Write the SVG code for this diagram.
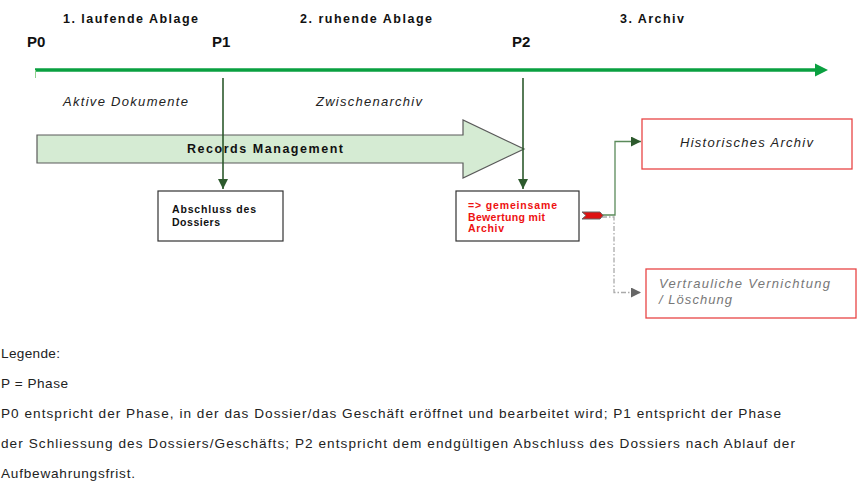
<svg xmlns="http://www.w3.org/2000/svg" width="860" height="487" viewBox="0 0 860 487">
<style>
text{font-family:"Liberation Sans",Arial,sans-serif}
.ph{font-size:12.5px;font-weight:bold;fill:#111}
.pp{font-size:15px;font-weight:bold;fill:#111}
.it{font-size:13px;font-style:italic;fill:#222}
.box{fill:#fff;stroke:#333;stroke-width:1.2}
.rbox{fill:#fff;stroke:#e84545;stroke-width:1.3}
.bt{font-size:10.5px;font-weight:bold;fill:#111}
.rt{font-size:10.5px;font-weight:bold;fill:#ee1111}
.lg{font-size:13.6px;fill:#222}
.pl{fill:none;stroke:#2d5a2d;stroke-width:1.6}
</style>
<defs>
<marker id="ad" markerUnits="userSpaceOnUse" markerWidth="12" markerHeight="12" refX="10" refY="5" orient="auto">
<polygon points="0,0 10,5 0,10" fill="#2d5a2d"/>
</marker>
<marker id="ag" markerUnits="userSpaceOnUse" markerWidth="12" markerHeight="12" refX="10" refY="5" orient="auto">
<polygon points="0,0 10,5 0,10" fill="#666"/>
</marker>
</defs>
<rect width="860" height="487" fill="#fff"/>

<g id="phases">
<text class="ph" x="63" y="23" textLength="135" lengthAdjust="spacing">1. laufende Ablage</text>
<text class="ph" x="300" y="23" textLength="132" lengthAdjust="spacing">2. ruhende Ablage</text>
<text class="ph" x="620" y="23" textLength="64" lengthAdjust="spacing">3. Archiv</text>
<text class="pp" x="27" y="47">P0</text>
<text class="pp" x="212" y="47">P1</text>
<text class="pp" x="512" y="47">P2</text>
</g>

<g id="timeline">
<line x1="35" y1="70" x2="816" y2="70" stroke="#0aa040" stroke-width="3.5"/>
<polygon points="815,63.5 828,70 815,76.5" fill="#0aa040"/>
<line x1="35.5" y1="70" x2="35.5" y2="78" stroke="#8fd08f" stroke-width="1"/>
</g>

<g id="labels">
<text class="it" x="63" y="106" textLength="125" lengthAdjust="spacing">Aktive Dokumente</text>
<text class="it" x="316" y="106" textLength="106" lengthAdjust="spacing">Zwischenarchiv</text>
</g>

<g id="records-management">
<polygon points="37,135 463,135 463,120 524,149 463,178 463,163 37,163" fill="#d5ebd3" stroke="#5a5a5a" stroke-width="1.2"/>
<text x="187" y="153" style="font-size:12.5px;font-weight:bold;fill:#111" textLength="156" lengthAdjust="spacing">Records Management</text>
</g>

<g id="connectors">
<line class="pl" x1="223" y1="78" x2="223" y2="189" marker-end="url(#ad)"/>
<line class="pl" x1="523" y1="78" x2="523" y2="189" marker-end="url(#ad)"/>
<path d="M602 215 H615 V141.5 H641" fill="none" stroke="#5a8a5a" stroke-width="1.3" marker-end="url(#ad)"/>
<path d="M602 217 H614 V292.5 H641" fill="none" stroke="#aaa" stroke-width="1.3" stroke-dasharray="5 2 1.5 2" marker-end="url(#ag)"/>
<polygon points="582,212 600,212 603,215.5 600,219 582,219 586,215.5" fill="#dd1111" stroke="#666" stroke-width="1"/>
</g>

<g id="abschluss">
<rect class="box" x="158" y="191" width="125" height="50"/>
<text class="bt" x="172" y="213" textLength="84" lengthAdjust="spacing">Abschluss des</text>
<text class="bt" x="172" y="226" textLength="48" lengthAdjust="spacing">Dossiers</text>
</g>

<g id="bewertung">
<rect class="box" x="456" y="191" width="123" height="50"/>
<text class="rt" x="468" y="209" textLength="89" lengthAdjust="spacing">=&gt; gemeinsame</text>
<text class="rt" x="468" y="221" textLength="77" lengthAdjust="spacing">Bewertung mit</text>
<text class="rt" x="468" y="232" textLength="36" lengthAdjust="spacing">Archiv</text>
</g>

<g id="historisches-archiv">
<rect class="rbox" x="642" y="119" width="210" height="50"/>
<text class="it" x="680" y="147" textLength="133" lengthAdjust="spacing">Historisches Archiv</text>
</g>

<g id="vernichtung">
<rect class="rbox" x="646" y="269" width="210" height="49"/>
<text x="659" y="288" style="font-size:13px;font-style:italic;fill:#777" textLength="171" lengthAdjust="spacing">Vertrauliche Vernichtung</text>
<text x="659" y="304" style="font-size:13px;font-style:italic;fill:#777" textLength="73" lengthAdjust="spacing">/ Löschung</text>
</g>

<g id="legend">
<text class="lg" x="1" y="358" textLength="59" lengthAdjust="spacing">Legende:</text>
<text class="lg" x="1" y="388" textLength="67" lengthAdjust="spacing">P = Phase</text>
<text class="lg" x="1" y="418" textLength="780" lengthAdjust="spacing">P0 entspricht der Phase, in der das Dossier/das Geschäft eröffnet und bearbeitet wird; P1 entspricht der Phase</text>
<text class="lg" x="1" y="448" textLength="794" lengthAdjust="spacing">der Schliessung des Dossiers/Geschäfts; P2 entspricht dem endgültigen Abschluss des Dossiers nach Ablauf der</text>
<text class="lg" x="1" y="478" textLength="134" lengthAdjust="spacing">Aufbewahrungsfrist.</text>
</g>
</svg>
